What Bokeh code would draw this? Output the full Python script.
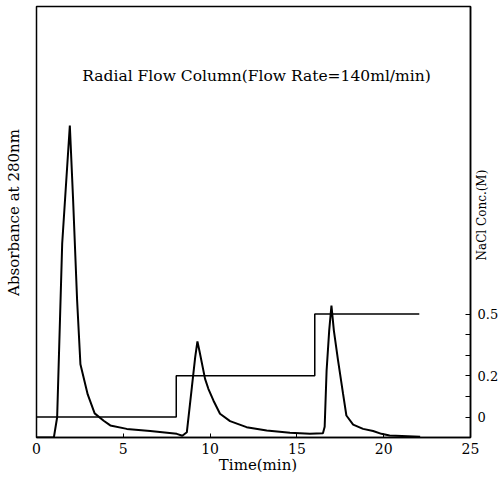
import math
from bokeh.plotting import figure
from bokeh.models import Range1d, LinearAxis, FixedTicker, Label
from bokeh.embed import file_html
from bokeh.resources import INLINE

# Absorbance trace (arbitrary units)
time_min = [0, 1.0, 1.19, 1.48, 1.92, 2.11, 2.34, 2.53, 2.95, 3.35, 3.87, 4.25, 5.2, 6.55,
            8.08, 8.4, 8.66, 8.95, 9.14, 9.27, 9.39, 9.71, 9.9, 10.19, 10.57, 11.15, 12.1,
            13.26, 14.6, 15.75, 16.5, 16.6, 16.71, 16.86, 16.99, 17.13, 17.37, 17.66, 17.85,
            18.24, 18.81, 19.39, 19.87, 20.34, 22.1]
absorbance = [0, 0, 0.047, 0.45, 0.724, 0.55, 0.318, 0.17, 0.10, 0.056, 0.039, 0.028, 0.02,
              0.015, 0.0085, 0.004, 0.012, 0.117, 0.186, 0.223, 0.20, 0.136, 0.113, 0.086,
              0.055, 0.038, 0.024, 0.016, 0.011, 0.0085, 0.01, 0.025, 0.155, 0.248, 0.306,
              0.248, 0.179, 0.101, 0.051, 0.030, 0.020, 0.015, 0.0085, 0.0046, 0.002]

# NaCl step gradient
step_time = [0, 8.05, 16.03, 22.05]
nacl_conc = [0, 0.2, 0.5, 0.5]

x_ticks = [0, 5, 10, 15, 20, 25]
nacl_ticks = [0, 0.1, 0.2, 0.3, 0.4, 0.5]
nacl_labels = {0: "0", 0.1: "", 0.2: "0.2", 0.3: "", 0.4: "", 0.5: "0.5"}

title_text = "Radial Flow Column(Flow Rate=140ml/min)"
x_label = "Time(min)"
x_label_at = 12.76    # time value under which the x label is centred
y_label = "Absorbance at 280nm"
y_label_at = 0.522    # absorbance value at which the y label is centred
y2_label = "NaCl Conc.(M)"
y2_label_at = 0.76    # NaCl value where the rotated label starts

FONT = "DejaVu Serif"


def bare(axis):
    axis.major_tick_in = 0
    axis.major_tick_out = 0
    axis.minor_tick_line_color = None
    axis.axis_line_color = None
    axis.major_tick_line_color = None
    axis.major_label_text_color = "black"
    axis.major_label_text_font = FONT


p = figure(width=501, height=477, output_backend="svg", toolbar_location=None,
           x_range=Range1d(0, 25), y_range=Range1d(0, 1.0),
           min_border_left=36, min_border_right=30, min_border_top=6, min_border_bottom=40)
p.background_fill_color = "white"
p.border_fill_color = "white"
p.outline_line_color = "black"
p.outline_line_width = 1.5
p.xgrid.visible = False
p.ygrid.visible = False

# left axis: only the rotated y label
ya = p.yaxis[0]
ya.ticker = FixedTicker(ticks=[y_label_at])
ya.major_label_overrides = {y_label_at: y_label}
ya.major_label_orientation = "vertical"
bare(ya)
ya.major_label_text_font_size = "15px"
ya.major_label_standoff = 13

xa = p.xaxis[0]
xa.ticker = FixedTicker(ticks=x_ticks)
xa.major_tick_in = 4
xa.major_tick_out = 0
xa.minor_tick_line_color = None
xa.axis_line_color = "black"
xa.axis_line_width = 1.5
xa.major_tick_line_color = "black"
xa.major_label_text_font = FONT
xa.major_label_text_font_size = "14px"
xa.major_label_text_color = "black"
xa.major_label_standoff = 5

# second bottom axis carrying only the x label
xa2 = LinearAxis(ticker=FixedTicker(ticks=[x_label_at]))
xa2.major_label_overrides = {x_label_at: x_label}
bare(xa2)
xa2.major_label_text_font_size = "15px"
xa2.major_label_standoff = -1
p.add_layout(xa2, "below")

p.extra_y_ranges = {"nacl": Range1d(-0.0995, 1.993)}

# right axis 1: tick marks only
ra0 = LinearAxis(y_range_name="nacl", ticker=FixedTicker(ticks=nacl_ticks))
ra0.major_label_overrides = {t: "" for t in nacl_ticks}
ra0.major_tick_in = 5
ra0.major_tick_out = 0
ra0.minor_tick_line_color = None
ra0.axis_line_color = "black"
ra0.axis_line_width = 1.5
ra0.major_tick_line_color = "black"
ra0.major_label_text_font_size = "1px"
ra0.major_label_standoff = 0
p.add_layout(ra0, "right")

# right axis 2: rotated NaCl label
ra2 = LinearAxis(y_range_name="nacl", ticker=FixedTicker(ticks=[y2_label_at]))
ra2.major_label_overrides = {y2_label_at: y2_label}
ra2.major_label_orientation = math.pi / 2
bare(ra2)
ra2.major_label_text_font_size = "12px"
ra2.major_label_standoff = 12
p.add_layout(ra2, "right")

# right axis 3: the numeric NaCl labels, pulled back next to the frame
ra = LinearAxis(y_range_name="nacl", ticker=FixedTicker(ticks=nacl_ticks))
ra.major_label_overrides = nacl_labels
bare(ra)
ra.major_label_text_font_size = "13px"
ra.major_label_standoff = -22
p.add_layout(ra, "right")

p.line(time_min, absorbance, line_color="black", line_width=2)
p.step(step_time, nacl_conc, mode="after", y_range_name="nacl", line_color="black", line_width=1.5)

p.add_layout(Label(x=2.64, y=0.8376, text=title_text, text_font=FONT, text_font_size="15.5px",
                   text_align="left", text_baseline="middle", text_color="black"))

open("out.html", "w").write(file_html(p, INLINE))
